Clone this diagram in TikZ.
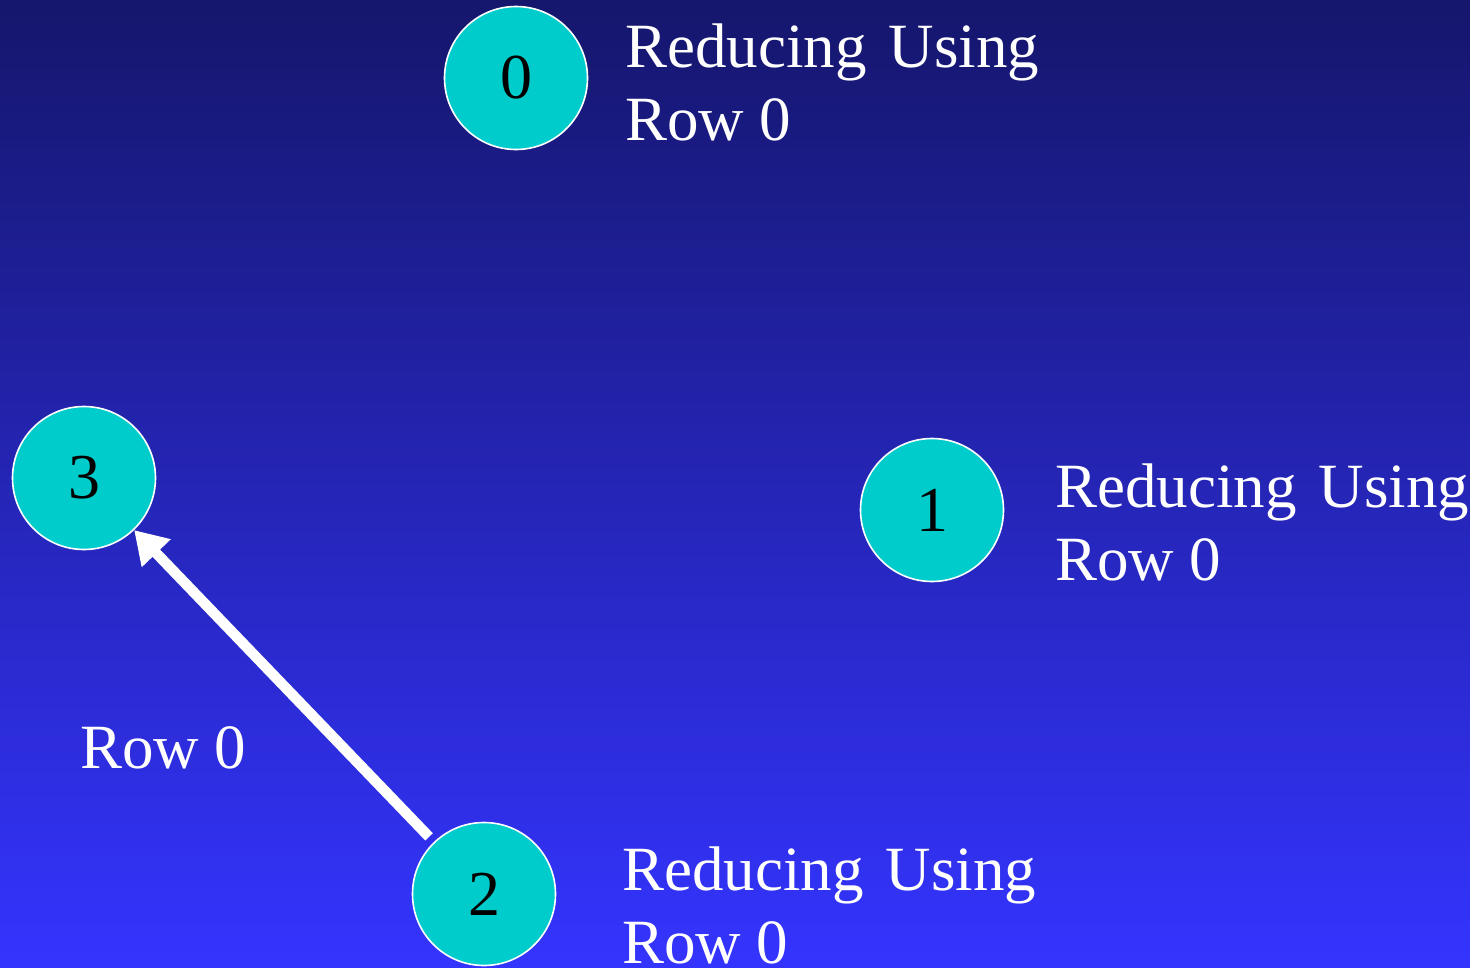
\documentclass[tikz,border=0pt]{standalone}
\usepackage{fontspec}
\setmainfont{Liberation Serif}
\usetikzlibrary{arrows.meta}
\definecolor{bgtop}{HTML}{15166C}
\definecolor{bgbot}{HTML}{3434FF}
\definecolor{nodecyan}{HTML}{00CCCC}
\begin{document}
\begin{tikzpicture}[x=1pt,y=-1pt,
  vertex/.style={circle,draw=white,line width=1.6pt,fill=nodecyan,
    minimum size=143pt,inner sep=0pt,text=black,
    font=\fontsize{64}{74}\selectfont},
  label/.style={text=white,align=left,inner sep=0pt,
    font=\fontsize{63}{73}\selectfont},
  edge/.style={draw=white,line width=10.5pt,
    -{Triangle[length=32pt,width=38pt]}}]
  % background
  \shade[top color=bgtop,bottom color=bgbot] (0,0) rectangle (1470,967);
  \useasboundingbox (0,0) rectangle (1470,967);
  % vertices
  \node[vertex] (n0) at (516,78) {0};
  \node[vertex] (n1) at (932,510) {1};
  \node[vertex] (n2) at (484,894) {2};
  \node[vertex] (n3) at (84,478) {3};
  % captions (anchored at the baseline of their last line)
  \node[label,anchor=base west] (t0) at (625,140) {Reducing\hspace{0.1em} Using\\Row 0};
  \node[label,anchor=base west] (t1) at (1055,580) {Reducing\hspace{0.1em} Using\\Row 0};
  \node[label,anchor=base west] (t2) at (622,963) {Reducing\hspace{0.1em} Using\\Row 0};
  \node[label,anchor=base west] (e0) at (80,768) {Row 0};
  % edge 2 -> 3
  \draw[edge,shorten <=7pt] (n2) -- (n3);
\end{tikzpicture}
\end{document}
